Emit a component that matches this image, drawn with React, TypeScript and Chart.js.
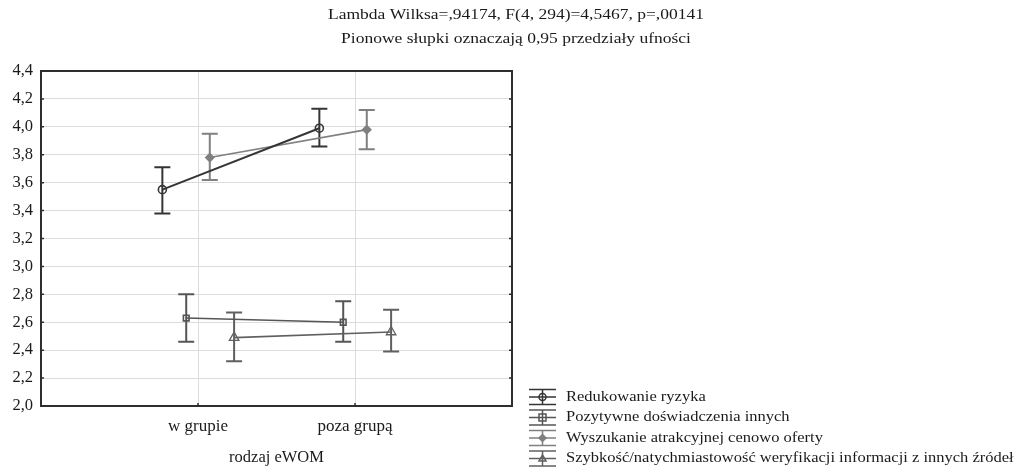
import React, { useEffect, useRef } from "react";
import { Chart, registerables } from "chart.js";

Chart.register(...registerables);

const titleLines = [
  "Lambda Wilksa=,94174, F(4, 294)=4,5467, p=,00141",
  "Pionowe słupki oznaczają 0,95 przedziały ufności",
];
const xAxisTitle = "rodzaj eWOM";
const categories = ["w grupie", "poza grupą"];
const yTickMin = 2.0;
const yTickMax = 4.4;
const yTickStep = 0.2;

const seriesNames = [
  "Redukowanie ryzyka",
  "Pozytywne doświadczenia innych",
  "Wyszukanie atrakcyjnej cenowo oferty",
  "Szybkość/natychmiastowość weryfikacji informacji z innych źródeł",
];

const redukowanieMean = [3.55, 3.99];
const redukowanieLow = [3.38, 3.86];
const redukowanieHigh = [3.71, 4.13];

const pozytywneMean = [2.63, 2.6];
const pozytywneLow = [2.46, 2.46];
const pozytywneHigh = [2.8, 2.75];

const wyszukanieMean = [3.78, 3.98];
const wyszukanieLow = [3.62, 3.84];
const wyszukanieHigh = [3.95, 4.12];

const szybkoscMean = [2.49, 2.53];
const szybkoscLow = [2.32, 2.39];
const szybkoscHigh = [2.67, 2.69];

// presentation (not data)
const seriesOffsets = [-0.227, -0.075, 0.075, 0.23];
const seriesColors = ["#353535", "#555555", "#808080", "#606060"];
const seriesMarkers = ["circle", "rect", "rectRot", "triangle"];
const seriesMarkerRadii = [4, 4, 4, 5.5];
const seriesLineWidths = [2, 1.6, 1.6, 1.6];

const means = [redukowanieMean, pozytywneMean, wyszukanieMean, szybkoscMean];
const lows = [redukowanieLow, pozytywneLow, wyszukanieLow, szybkoscLow];
const highs = [redukowanieHigh, pozytywneHigh, wyszukanieHigh, szybkoscHigh];

const FONT = "'Liberation Serif', 'Times New Roman', serif";

function drawMarker(ctx: CanvasRenderingContext2D, style: string, x: number, y: number, r: number, color: string) {
  ctx.save();
  ctx.strokeStyle = color;
  ctx.fillStyle = color;
  ctx.lineWidth = 1.5;
  ctx.beginPath();
  if (style === "circle") {
    ctx.arc(x, y, r, 0, Math.PI * 2);
  } else if (style === "rect") {
    ctx.rect(x - r, y - r, 2 * r, 2 * r);
  } else if (style === "rectRot") {
    ctx.moveTo(x, y - r);
    ctx.lineTo(x + r, y);
    ctx.lineTo(x, y + r);
    ctx.lineTo(x - r, y);
    ctx.closePath();
  } else {
    ctx.moveTo(x, y - r);
    ctx.lineTo(x + r, y + r * 0.7);
    ctx.lineTo(x - r, y + r * 0.7);
    ctx.closePath();
  }
  if (style === "rectRot") ctx.fill();
  ctx.stroke();
  ctx.restore();
}

function stretchedText(ctx: CanvasRenderingContext2D, text: string, x: number, y: number, sx: number, align: CanvasTextAlign) {
  ctx.save();
  ctx.translate(x, y);
  ctx.scale(sx, 1);
  ctx.textAlign = align;
  ctx.textBaseline = "middle";
  ctx.fillText(text, 0, 0);
  ctx.restore();
}

const decorPlugin = {
  id: "decor",
  beforeDatasetsDraw(chart: any) {
    const { ctx, scales } = chart;
    const x = scales.x;
    const y = scales.y;
    means.forEach((_m, si) => {
      ctx.save();
      ctx.strokeStyle = seriesColors[si];
      ctx.lineWidth = 2;
      categories.forEach((_c, ci) => {
        const px = x.getPixelForValue(ci + 1 + seriesOffsets[si]);
        const lo = y.getPixelForValue(lows[si][ci]);
        const hi = y.getPixelForValue(highs[si][ci]);
        ctx.beginPath();
        ctx.moveTo(px, lo);
        ctx.lineTo(px, hi);
        ctx.moveTo(px - 8, lo);
        ctx.lineTo(px + 8, lo);
        ctx.moveTo(px - 8, hi);
        ctx.lineTo(px + 8, hi);
        ctx.stroke();
      });
      ctx.restore();
    });
  },
  afterDraw(chart: any) {
    const { ctx, chartArea, scales } = chart;
    const { left, right, top, bottom } = chartArea;
    ctx.save();
    // frame
    ctx.strokeStyle = "#2e2e2e";
    ctx.lineWidth = 2;
    ctx.strokeRect(left, top, right - left, bottom - top);
    // inward ticks
    ctx.lineWidth = 1.5;
    ctx.beginPath();
    scales.y.ticks.forEach((t: any) => {
      const py = scales.y.getPixelForValue(t.value);
      ctx.moveTo(left, py);
      ctx.lineTo(left + 3, py);
      ctx.moveTo(right, py);
      ctx.lineTo(right - 3, py);
    });
    scales.x.ticks.forEach((t: any) => {
      const px = scales.x.getPixelForValue(t.value);
      ctx.moveTo(px, bottom);
      ctx.lineTo(px, bottom - 3);
    });
    ctx.stroke();

    // titles
    ctx.fillStyle = "#1a1a1a";
    ctx.font = `14px ${FONT}`;
    stretchedText(ctx, titleLines[0], 516, 15, 1.25, "center");
    stretchedText(ctx, titleLines[1], 516, 39, 1.25, "center");

    // legend
    const lx = 542.5;
    const ly0 = 397;
    const lstep = 20.5;
    seriesNames.forEach((name, si) => {
      const cy = ly0 + si * lstep;
      ctx.strokeStyle = seriesColors[si];
      ctx.lineWidth = 1.5;
      ctx.beginPath();
      ctx.moveTo(lx - 13.5, cy - 7.5);
      ctx.lineTo(lx + 13.5, cy - 7.5);
      ctx.moveTo(lx - 13.5, cy);
      ctx.lineTo(lx + 13.5, cy);
      ctx.moveTo(lx - 13.5, cy + 7.5);
      ctx.lineTo(lx + 13.5, cy + 7.5);
      ctx.moveTo(lx, cy - 7.5);
      ctx.lineTo(lx, cy + 7.5);
      ctx.stroke();
      drawMarker(ctx, seriesMarkers[si], lx, cy, 3.5, seriesColors[si]);
      ctx.fillStyle = "#1a1a1a";
      ctx.font = `15px ${FONT}`;
      stretchedText(ctx, name, 566, cy, 1.1, "left");
    });
    ctx.restore();
  },
};

export default function App() {
  const canvasRef = useRef<HTMLCanvasElement | null>(null);

  useEffect(() => {
    const canvas = canvasRef.current;
    if (!canvas) return;
    const datasets = seriesNames.map((name, si) => ({
      label: name,
      data: categories.map((_c, ci) => ({ x: ci + 1 + seriesOffsets[si], y: means[si][ci] })),
      borderColor: seriesColors[si],
      backgroundColor: seriesMarkers[si] === "rectRot" ? seriesColors[si] : "rgba(0,0,0,0)",
      borderWidth: seriesLineWidths[si],
      pointStyle: seriesMarkers[si],
      pointRadius: seriesMarkerRadii[si],
      pointBorderWidth: seriesMarkers[si] === "triangle" ? 1.3 : 1.6,
      pointBorderColor: seriesColors[si],
      pointBackgroundColor: seriesMarkers[si] === "rectRot" ? seriesColors[si] : "rgba(255,255,255,0)",
      tension: 0,
      fill: false,
    }));

    const chart = new Chart(canvas, {
      type: "line",
      data: { datasets },
      options: {
        animation: false,
        responsive: false,
        devicePixelRatio: 1,
        layout: { padding: { left: 0, top: 71, right: 503, bottom: 0 } },
        plugins: {
          legend: { display: false },
          title: { display: false },
          tooltip: { enabled: false },
        },
        scales: {
          x: {
            type: "linear",
            min: 0,
            max: 3,
            afterBuildTicks: (scale: any) => {
              scale.ticks = categories.map((_c, i) => ({ value: i + 1 }));
            },
            afterFit: (scale: any) => {
              scale.height = 63;
            },
            ticks: {
              autoSkip: false,
              maxRotation: 0,
              padding: 10,
              color: "#1a1a1a",
              font: { family: FONT, size: 17 },
              callback: (v: any) => categories[Math.round(Number(v)) - 1] ?? "",
            },
            grid: { color: "#dcdcdc", lineWidth: 1, drawTicks: false },
            border: { display: false },
            title: {
              display: true,
              text: xAxisTitle,
              color: "#1a1a1a",
              font: { family: FONT, size: 16.5 },
              padding: { top: 0, bottom: 1 },
            },
          },
          y: {
            type: "linear",
            min: yTickMin,
            max: yTickMax,
            afterFit: (scale: any) => {
              scale.width = 41;
            },
            ticks: {
              stepSize: yTickStep,
              padding: 8,
              color: "#1a1a1a",
              font: { family: FONT, size: 16.5 },
              callback: (v: any) => Number(v).toFixed(1).replace(".", ","),
            },
            grid: { color: "#dcdcdc", lineWidth: 1, drawTicks: false },
            border: { display: false },
          },
        },
      },
      plugins: [decorPlugin],
    } as any);

    return () => chart.destroy();
  }, []);

  return (
    <div style={{ position: "fixed", left: 0, top: 0, width: 1015, height: 469, background: "#ffffff" }}>
      <canvas ref={canvasRef} width={1015} height={469} style={{ display: "block", width: 1015, height: 469 }} />
    </div>
  );
}
